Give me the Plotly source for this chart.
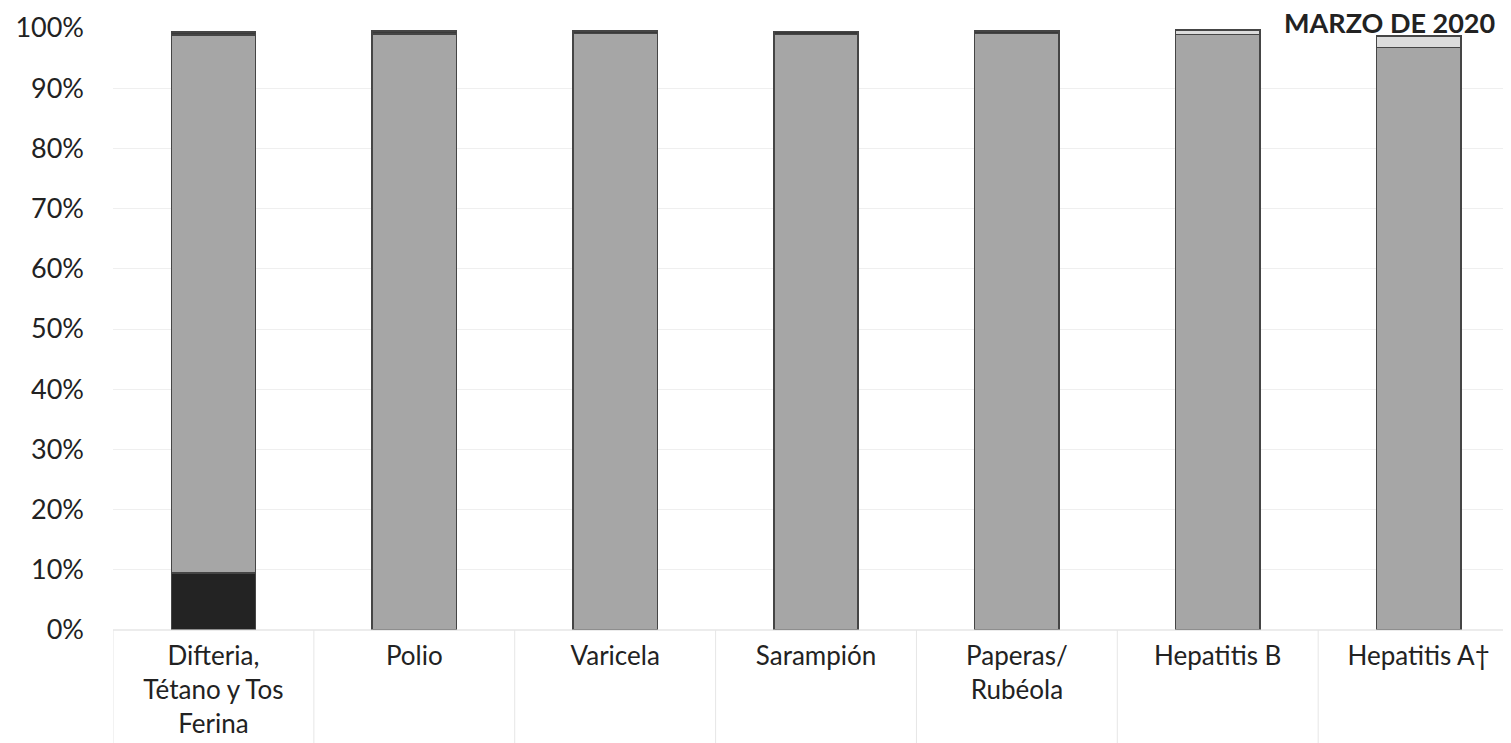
import plotly.graph_objects as go

categories = ["Difteria,<br>Tétano y Tos<br>Ferina", "Polio", "Varicela", "Sarampión",
              "Paperas/<br>Rubéola", "Hepatitis B", "Hepatitis A†"]
bottom_dark = [9.5, 0, 0, 0, 0, 0, 0]
main_gray = [89.3, 99.0, 99.1, 98.9, 99.1, 98.9, 96.8]
top_dark = [0.5, 0.5, 0.4, 0.5, 0.4, 0, 0]
top_light = [0, 0, 0, 0, 0, 0.8, 1.9]
tick_vals = [0, 10, 20, 30, 40, 50, 60, 70, 80, 90, 100]
tick_text = [f"{v}%" for v in tick_vals]

xs = list(range(len(categories)))
fig = go.Figure()
series = [
    (bottom_dark, "#232323"),
    (main_gray, "#a6a6a6"),
    (top_dark, "#3a3a3a"),
    (top_light, "#dcdcdc"),
]
for vals, col in series:
    fig.add_trace(go.Bar(x=xs, y=vals, marker=dict(color=col, line=dict(color="#454545", width=1.5)),
                         width=0.42, showlegend=False))

shapes = [dict(type="line", xref="x", yref="paper", x0=-0.5, x1=6.5, y0=0, y1=0,
               line=dict(color="#d9d9d9", width=1))]
for i in range(len(categories) + 1):
    shapes.append(dict(type="line", xref="x", yref="paper", x0=i - 0.5, x1=i - 0.5, y0=0, y1=-0.2,
                       line=dict(color="#e6e6e6", width=1)))

fig.update_layout(
    width=1503, height=735,
    margin=dict(l=105, r=0, t=20, b=113),
    barmode="stack",
    plot_bgcolor="white", paper_bgcolor="white",
    font=dict(family="Lato, Open Sans, sans-serif", size=26, color="#222"),
    xaxis=dict(range=[-0.5, 6.46], tickvals=xs, ticktext=categories, showgrid=False,
               showline=False, zeroline=False, ticks="", tickfont=dict(size=26),
               ticklabelstandoff=8),
    yaxis=dict(range=[0, 100], tickvals=tick_vals, ticktext=tick_text, showgrid=True,
               gridcolor="#efefef", gridwidth=1, zeroline=False, showline=False, ticks="",
               ticklabelstandoff=28, tickfont=dict(size=27)),
    shapes=shapes,
    annotations=[dict(text="<b>MARZO DE 2020</b>", xref="paper", yref="paper", x=0.99, y=1.0,
                      yshift=24, xanchor="right", yanchor="top", showarrow=False,
                      font=dict(size=27, color="#222"))],
)
fig.write_html("out.html")
